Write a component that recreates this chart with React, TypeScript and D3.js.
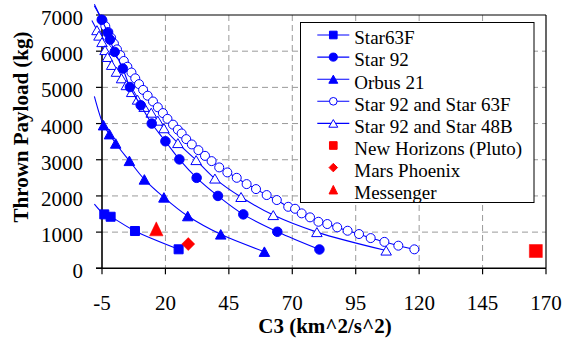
import React from "react";
import * as d3 from "d3";

// ---------- data ----------
const xTicks = [-5, 20, 45, 70, 95, 120, 145, 170];
const yTicks = [0, 1000, 2000, 3000, 4000, 5000, 6000, 7000];

// Star63F
const star63fC3 = [-4.1, -1.6, 8.0, 25.2];
const star63fPayload = [1490, 1425, 1030, 525];
const star63fLead = [-8, 1775];

// Star 92
const star92C3 = [-5.1, -2.75, -1.85, 0.0, 3.2, 6.0, 10.25, 14.6, 20.0, 25.5, 32.3, 40.7, 50.7, 64.1, 80.7];
const star92Payload = [6870, 6510, 6320, 5980, 5520, 5010, 4505, 4000, 3510, 3010, 2500, 2000, 1490, 1010, 520];
const star92Lead = [-8, 7300];

// Orbus 21
const orbusC3 = [-4.4, -2.05, 0.4, 5.8, 11.7, 19.4, 28.8, 41.8, 59.0];
const orbusPayload = [3955, 3707, 3450, 2970, 2457, 1960, 1444, 938, 460];
const orbusLead = [-8, 4750];

// Star 92 and Star 63F
const s92s63C3 = [
  -4.8, -3.7, -2.5, -1.4, -0.3, 0.9, 2.2, 3.6, 5.0, 6.6, 8.1, 9.6, 11.2, 13.0, 15.1, 17.0, 19.0, 20.8, 23.0, 24.9,
  26.4, 28.2, 30.4, 33.0, 35.6, 38.2, 41.2, 44.4, 48.1, 52.0, 55.7, 59.9, 63.9, 68.4, 71.1, 73.7, 77.0, 80.3, 83.8,
  87.7, 91.8, 96.3, 100.9, 106.3, 111.8, 118.1,
];
const s92s63Payload = [
  6850, 6690, 6530, 6370, 6210, 6050, 5890, 5730, 5570, 5410, 5250, 5090, 4930, 4770, 4610, 4450, 4290, 4130, 3970, 3830,
  3726, 3570, 3423, 3265, 3108, 2962, 2788, 2650, 2501, 2327, 2189, 2024, 1886, 1700, 1645, 1518, 1408, 1286, 1223,
  1132, 1038, 947, 835, 730, 625, 524,
];
const s92s63Lead = [-8, 7250];

// Star 92 and Star 48B
const s92s48C3 = [-7.0, -6.2, -5.0, -3.8, -2.8, -1.2, 0.7, 2.7, 4.6, 6.7, 9.0, 11.6, 14.4, 17.0, 19.4, 24.9, 32.1, 39.5, 49.8, 62.5, 79.7, 107.0];
const s92s48Payload = [6580, 6430, 6250, 6030, 5840, 5620, 5430, 5250, 5060, 4870, 4660, 4460, 4300, 4080, 3870, 3460, 2990, 2480, 1970, 1470, 1000, 490];
const s92s48Lead = [-9, 6850];

// Missions
const missionNames = ["New Horizons (Pluto)", "Mars Phoenix", "Messenger"];
const missionC3 = [166, 29.0, 16.4];
const missionPayload = [478, 670, 1090];

const seriesNames = ["Star63F", "Star 92", "Orbus 21", "Star 92 and Star 63F", "Star 92 and Star 48B"];

// ---------- layout ----------
const W = 564;
const H = 342;
const X0 = 102;
const X1 = 546;
const Y0 = 268.3;
const Y1 = 15;
const BLUE = "#0000ff";
const RED = "#ff0000";
const FONT = '"Liberation Serif", "DejaVu Serif", "Times New Roman", serif';
const TS: React.CSSProperties = { fontFamily: FONT };

const x = d3.scaleLinear().domain([-5, 170]).range([X0, X1]);
const y = d3.scaleLinear().domain([0, 7000]).range([Y0, Y1]);

type MType = "square" | "circle" | "triangle" | "diamond";

function markerPath(type: MType, w: number, h?: number): string {
  const hh = h ?? w;
  if (type === "square") return `M${-w / 2},${-hh / 2}h${w}v${hh}h${-w}Z`;
  if (type === "circle") {
    const r = w / 2;
    return `M${-r},0a${r},${r} 0 1,0 ${2 * r},0a${r},${r} 0 1,0 ${-2 * r},0Z`;
  }
  if (type === "triangle") return `M0,${-hh / 2}L${w / 2},${hh / 2}L${-w / 2},${hh / 2}Z`;
  return `M0,${-hh / 2}L${w / 2},0L0,${hh / 2}L${-w / 2},0Z`;
}

interface Series {
  name: string;
  c3: number[];
  payload: number[];
  lead: number[];
  type: MType;
  open: boolean;
  w: number;
  h: number;
}

const series: Series[] = [
  { name: seriesNames[0], c3: star63fC3, payload: star63fPayload, lead: star63fLead, type: "square", open: false, w: 9, h: 9 },
  { name: seriesNames[1], c3: star92C3, payload: star92Payload, lead: star92Lead, type: "circle", open: false, w: 9.5, h: 9.5 },
  { name: seriesNames[2], c3: orbusC3, payload: orbusPayload, lead: orbusLead, type: "triangle", open: false, w: 10.5, h: 9.5 },
  { name: seriesNames[3], c3: s92s63C3, payload: s92s63Payload, lead: s92s63Lead, type: "circle", open: true, w: 9, h: 9 },
  { name: seriesNames[4], c3: s92s48C3, payload: s92s48Payload, lead: s92s48Lead, type: "triangle", open: true, w: 10.5, h: 9 },
];

const missionTypes: MType[] = ["square", "diamond", "triangle"];
const missionSizes = [
  [13, 13],
  [13, 13],
  [13.5, 14],
];
const legendMissionSizes = [
  [9, 9],
  [10, 10],
  [10, 10],
];

const lineGen = d3
  .line<[number, number]>()
  .x((d) => x(d[0]))
  .y((d) => y(d[1]))
  .curve(d3.curveCatmullRom.alpha(0.5));

export default function App() {
  const drawOrder = [3, 4, 1, 2, 0];
  const legendX = 300.5;
  const legendY = 22.5;
  const legendW = 233.5;
  const legendH = 180;
  const rowY0 = 35;
  const rowStep = 22.1;

  const legendItems = [
    ...series.map((s) => ({ name: s.name, type: s.type, open: s.open, w: s.w, h: s.h, line: true, color: BLUE })),
    ...missionNames.map((n, i) => ({
      name: n,
      type: missionTypes[i],
      open: false,
      w: legendMissionSizes[i][0],
      h: legendMissionSizes[i][1],
      line: false,
      color: RED,
    })),
  ];

  return (
    <svg
      width={W}
      height={H}
      viewBox={`0 0 ${W} ${H}`}
      style={{ position: "fixed", left: 0, top: 0, background: "#fff", fontFamily: FONT }}
    >
      <rect x={0} y={0} width={W} height={H} fill="#fff" />
      {/* gridlines */}
      {xTicks.slice(1, -1).map((t) => (
        <line key={"gx" + t} x1={x(t)} x2={x(t)} y1={Y1} y2={Y0} stroke="#9a9a9a" strokeWidth={1} strokeDasharray="6,4" />
      ))}
      {yTicks.slice(1, -1).map((t) => (
        <line key={"gy" + t} x1={X0} x2={X1} y1={y(t)} y2={y(t)} stroke="#9a9a9a" strokeWidth={1} strokeDasharray="6,4" />
      ))}
      {/* frame */}
      <line x1={X0} x2={X1} y1={Y1} y2={Y1} stroke="#000" strokeWidth={1.2} />
      <line x1={X1} x2={X1} y1={Y1} y2={Y0} stroke="#000" strokeWidth={1.2} />
      <line x1={X0} x2={X0} y1={Y1} y2={Y0} stroke="#000" strokeWidth={1.6} />
      <line x1={X0 - 6} x2={X1} y1={Y0} y2={Y0} stroke="#000" strokeWidth={1.6} />
      {/* ticks */}
      {yTicks.map((t) => (
        <line key={"ty" + t} x1={X0 - 6} x2={X0} y1={y(t)} y2={y(t)} stroke="#000" strokeWidth={1.2} />
      ))}
      {xTicks.map((t) => (
        <line key={"tx" + t} x1={x(t)} x2={x(t)} y1={Y0} y2={Y0 + 6} stroke="#000" strokeWidth={1.2} />
      ))}
      {/* tick labels */}
      {yTicks.map((t) => (
        <text key={"ly" + t} x={83} y={y(t) + 10} textAnchor="end" fontSize={21} fill="#000" style={TS}>
          {t}
        </text>
      ))}
      {xTicks.map((t) => (
        <text key={"lx" + t} x={x(t)} y={310} textAnchor="middle" fontSize={21} fill="#000" style={TS}>
          {t}
        </text>
      ))}
      {/* axis titles */}
      <text x={325} y={333} textAnchor="middle" fontSize={21} fontWeight="bold" fill="#000" style={TS}>
        C3 (km^2/s^2)
      </text>
      <text
        transform="translate(21,127) rotate(-90)"
        textAnchor="middle"
        dominantBaseline="central"
        fontSize={21}
        fontWeight="bold"
        fill="#000"
        style={TS}
      >
        Thrown Payload (kg)
      </text>

      {/* series */}
      {drawOrder.map((si) => {
        const s = series[si];
        const pts: [number, number][] = [[s.lead[0], s.lead[1]], ...s.c3.map((c, i) => [c, s.payload[i]] as [number, number])];
        return (
          <g key={"s" + si}>
            <path d={lineGen(pts) || ""} fill="none" stroke={BLUE} strokeWidth={1.1} />
            {s.c3.map((c, i) => (
              <path
                key={i}
                transform={`translate(${x(c)},${y(s.payload[i])})`}
                d={markerPath(s.type, s.w, s.h)}
                fill={s.open ? "#fff" : BLUE}
                stroke={BLUE}
                strokeWidth={1}
              />
            ))}
          </g>
        );
      })}

      {/* legend */}
      <rect x={legendX} y={legendY} width={legendW} height={legendH} fill="#fff" stroke="#000" strokeWidth={1} />
      {legendItems.map((it, i) => {
        const ry = rowY0 + i * rowStep;
        return (
          <g key={"lg" + i}>
            {it.line && <line x1={317.3} x2={349.3} y1={ry} y2={ry} stroke={BLUE} strokeWidth={1.1} />}
            <path
              transform={`translate(333.3,${ry})`}
              d={markerPath(it.type, it.w * 0.85, it.h * 0.85)}
              fill={it.open ? "#fff" : it.color}
              stroke={it.color}
              strokeWidth={1}
            />
            <text x={354.3} y={ry + 9.3} fontSize={19} fill="#000" style={TS}>
              {it.name}
            </text>
          </g>
        );
      })}

      {/* missions */}
      {missionNames.map((n, i) => (
        <path
          key={"m" + i}
          transform={`translate(${x(missionC3[i])},${y(missionPayload[i])})`}
          d={markerPath(missionTypes[i], missionSizes[i][0], missionSizes[i][1])}
          fill={RED}
          stroke={RED}
          strokeWidth={0.5}
        />
      ))}
    </svg>
  );
}
